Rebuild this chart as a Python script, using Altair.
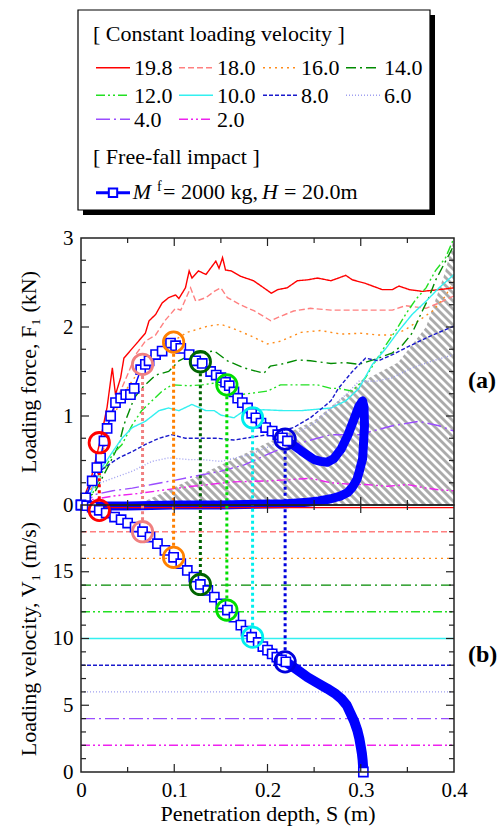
import altair as alt
import numpy as np
import pandas as pd

FONT = "Liberation Serif"
FRAME = "#222222"
W, H = 373, 267                 # plot area of each panel (px)
S_MAX, F_MAX, V_MAX = 0.4, 3.0, 20.0

# ---------------- constant loading velocity tests ----------------
vel_labels = ["19.8", "18.0", "16.0", "14.0", "12.0", "10.0", "8.0", "6.0", "4.0", "2.0"]
vel_values = [19.8, 18.0, 16.0, 14.0, 12.0, 10.0, 8.0, 6.0, 4.0, 2.0]
vel_colors = ["#ff0000", "#ff8080", "#ff8c1a", "#008a00", "#22e022",
              "#33f0f0", "#1a1acc", "#a0a0f0", "#9a4dff", "#ee22ee"]
vel_dashes = [[1, 0], [6, 3], [2, 4], [10, 4, 2, 4], [9, 3, 2, 3, 2, 3],
              [1, 0], [4, 2], [1, 2], [14, 4, 2, 4], [9, 3, 2, 3, 2, 3]]

s_198 = [0, 0.0107, 0.021, 0.028, 0.0336, 0.037, 0.0425, 0.046, 0.055, 0.06, 0.069, 0.073,
         0.08, 0.087, 0.094, 0.1014, 0.105, 0.112, 0.116, 0.119, 0.126, 0.134, 0.1446, 0.148,
         0.1518, 0.155, 0.161, 0.171, 0.185, 0.196, 0.204, 0.211, 0.221, 0.232, 0.243, 0.2536,
         0.268, 0.284, 0.291, 0.305, 0.323, 0.334, 0.341, 0.352, 0.366, 0.384, 0.4]
f_198 = [0, 0.29, 0.74, 1.1, 1.54, 1.24, 1.43, 1.65, 1.76, 1.82, 1.93, 2.07,
         2.14, 2.27, 2.33, 2.36, 2.32, 2.44, 2.63, 2.55, 2.63, 2.59, 2.74, 2.66,
         2.78, 2.64, 2.63, 2.57, 2.52, 2.44, 2.38, 2.42, 2.44, 2.52, 2.53, 2.55,
         2.52, 2.58, 2.53, 2.49, 2.42, 2.42, 2.46, 2.42, 2.40, 2.42, 2.44]

s_180 = [0, 0.01, 0.019, 0.03, 0.0407, 0.0514, 0.0586, 0.069, 0.08, 0.0907, 0.1014, 0.107,
         0.1175, 0.123, 0.134, 0.1429, 0.15, 0.157, 0.171, 0.186, 0.2036, 0.214, 0.228,
         0.246, 0.268, 0.298, 0.334, 0.348, 0.37, 0.384, 0.4]
f_180 = [0, 0.15, 0.38, 0.9, 1.24, 1.5, 1.69, 1.84, 1.91, 2.08, 2.21, 2.19,
         2.44, 2.29, 2.33, 2.40, 2.44, 2.33, 2.25, 2.18, 2.07, 2.12, 2.18,
         2.21, 2.19, 2.19, 2.19, 2.24, 2.21, 2.27, 2.35]

s_160 = [0, 0.012, 0.022, 0.032, 0.046, 0.064, 0.08, 0.1, 0.114, 0.136, 0.15, 0.164, 0.182,
         0.2, 0.214, 0.236, 0.257, 0.279, 0.3, 0.319, 0.334, 0.348, 0.362, 0.377, 0.391, 0.4]
f_160 = [0, 0.2, 0.55, 0.92, 1.26, 1.53, 1.7, 1.85, 1.94, 2.01, 2.03, 1.98, 1.9,
         1.81, 1.84, 1.94, 1.96, 1.92, 1.93, 1.91, 1.91, 1.97, 2.07, 2.18, 2.35, 2.52]

s_140 = [0, 0.015, 0.03, 0.0407, 0.046, 0.057, 0.065, 0.08, 0.094, 0.105, 0.12, 0.143, 0.157,
         0.175, 0.196, 0.203, 0.218, 0.232, 0.246, 0.268, 0.284, 0.298, 0.319, 0.334, 0.345,
         0.355, 0.366, 0.373, 0.38, 0.391, 0.4]
f_140 = [0, 0.15, 0.45, 0.68, 0.9, 1.2, 1.31, 1.46, 1.5, 1.62, 1.7, 1.73, 1.62,
         1.54, 1.48, 1.56, 1.59, 1.63, 1.62, 1.59, 1.6, 1.58, 1.65, 1.71, 1.8,
         1.93, 2.18, 2.33, 2.52, 2.74, 2.92]

s_120 = [0, 0.012, 0.022, 0.034, 0.044, 0.055, 0.065, 0.076, 0.087, 0.0975, 0.116, 0.13,
         0.143, 0.157, 0.171, 0.186, 0.2, 0.214, 0.236, 0.2536, 0.268, 0.276, 0.291, 0.305,
         0.316, 0.327, 0.3375, 0.348, 0.359, 0.37, 0.38, 0.391, 0.4]
f_120 = [0, 0.12, 0.35, 0.57, 0.68, 0.9, 1.06, 1.17, 1.28, 1.35, 1.34, 1.35,
         1.37, 1.31, 1.24, 1.26, 1.28, 1.35, 1.35, 1.35, 1.31, 1.31, 1.28, 1.43,
         1.62, 1.8, 1.96, 2.14, 2.31, 2.44, 2.63, 2.78, 3.0]

s_100 = [0, 0.008, 0.0225, 0.034, 0.044, 0.055, 0.069, 0.0836, 0.094, 0.105, 0.119, 0.134,
         0.143, 0.15, 0.164, 0.175, 0.196, 0.218, 0.236, 0.268, 0.284, 0.298, 0.3125, 0.327,
         0.341, 0.355, 0.37, 0.384, 0.4]
f_100 = [0, 0.08, 0.42, 0.6, 0.75, 0.87, 0.94, 1.06, 1.09, 1.06, 1.13, 1.06,
         1.06, 1.01, 0.98, 1.06, 1.07, 1.06, 1.06, 1.09, 1.17, 1.31, 1.58, 1.76,
         1.96, 2.14, 2.29, 2.44, 2.59]

s_080 = [0, 0.012, 0.025, 0.0407, 0.055, 0.069, 0.0836, 0.0975, 0.112, 0.126, 0.146, 0.164,
         0.2, 0.228, 0.246, 0.268, 0.276, 0.291, 0.305, 0.319, 0.334, 0.355, 0.377, 0.391, 0.4]
f_080 = [0, 0.3, 0.42, 0.53, 0.6, 0.68, 0.75, 0.79, 0.75, 0.75, 0.75, 0.73,
         0.79, 0.87, 0.98, 1.17, 1.31, 1.5, 1.65, 1.62, 1.69, 1.8, 1.91, 1.97, 2.01]

s_060 = [0, 0.0157, 0.034, 0.055, 0.076, 0.094, 0.116, 0.13, 0.15, 0.182, 0.207, 0.228,
         0.25, 0.268, 0.284, 0.298, 0.316, 0.334, 0.355, 0.377, 0.4]
f_060 = [0, 0.23, 0.3, 0.38, 0.49, 0.53, 0.51, 0.51, 0.49, 0.57, 0.68, 0.79,
         0.92, 1.09, 1.24, 1.39, 1.39, 1.43, 1.54, 1.62, 1.69]

s_040 = [0, 0.016, 0.034, 0.055, 0.076, 0.1014, 0.13, 0.15, 0.175, 0.2, 0.221, 0.243,
         0.268, 0.298, 0.334, 0.362, 0.384, 0.4]
f_040 = [0, 0.12, 0.16, 0.19, 0.23, 0.28, 0.34, 0.38, 0.45, 0.57, 0.66, 0.72,
         0.79, 0.79, 0.89, 0.94, 0.89, 0.83]

s_020 = [0, 0.012, 0.034, 0.062, 0.09, 0.119, 0.137, 0.164, 0.2, 0.246, 0.268, 0.293,
         0.306, 0.329, 0.35, 0.37, 0.384, 0.4]
f_020 = [0, 0.06, 0.1, 0.13, 0.17, 0.21, 0.23, 0.26, 0.27, 0.3, 0.25, 0.23,
         0.23, 0.21, 0.23, 0.19, 0.17, 0.16]

curves = [(s_198, f_198), (s_180, f_180), (s_160, f_160), (s_140, f_140), (s_120, f_120),
          (s_100, f_100), (s_080, f_080), (s_060, f_060), (s_040, f_040), (s_020, f_020)]

# ---------------- free-fall impact (Mf = 2000 kg, H = 20 m) ----------------
ff_s_a = [0.0, 0.005, 0.012, 0.017, 0.021, 0.0246, 0.028, 0.0318, 0.037, 0.0425, 0.048, 0.053,
          0.057, 0.064, 0.069, 0.073, 0.08, 0.087, 0.096, 0.1014, 0.107, 0.116, 0.123, 0.13,
          0.139, 0.145, 0.15, 0.155, 0.159, 0.164, 0.168, 0.173, 0.1786, 0.183, 0.1875, 0.193,
          0.198, 0.205, 0.211, 0.216, 0.2214, 0.228, 0.236, 0.243, 0.25, 0.257, 0.264, 0.271,
          0.279, 0.286, 0.293, 0.298, 0.302, 0.3035, 0.304, 0.303, 0.302, 0.299, 0.296, 0.291,
          0.286, 0.278, 0.268, 0.255, 0.243, 0.22, 0.2, 0.15, 0.1, 0.05, 0.0]
ff_f_a = [0.0, 0.08, 0.27, 0.42, 0.53, 0.72, 0.86, 1.0, 1.15, 1.2, 1.24, 1.24,
          1.31, 1.52, 1.58, 1.62, 1.69, 1.73, 1.82, 1.79, 1.76, 1.69, 1.62, 1.59,
          1.5, 1.46, 1.43, 1.38, 1.34, 1.27, 1.2, 1.15, 1.09, 1.03, 0.98, 0.92,
          0.87, 0.83, 0.79, 0.755, 0.72, 0.67, 0.61, 0.56, 0.51, 0.49, 0.48, 0.52,
          0.63, 0.78, 0.97, 1.11, 1.17, 1.1, 0.89, 0.7, 0.52, 0.4, 0.29, 0.2,
          0.14, 0.1, 0.07, 0.045, 0.03, 0.015, 0.01, 0.0, 0.0, -0.01, -0.01]
FF_A_SQUARES_END = 41       # squares drawn up to S = 0.2214
FF_A_BAND_START = 32        # densely packed markers from S = 0.1786 on

ff_s_b = [0, 0.006, 0.012, 0.0196, 0.027, 0.036, 0.043, 0.05, 0.058, 0.066, 0.074, 0.082,
          0.09, 0.0993, 0.107, 0.114, 0.121, 0.128, 0.136, 0.143, 0.15, 0.157, 0.164, 0.1714,
          0.177, 0.183, 0.19, 0.195, 0.2, 0.205, 0.21, 0.215, 0.2197, 0.232, 0.243, 0.254,
          0.264, 0.272, 0.279, 0.285, 0.289, 0.293, 0.2964, 0.2985, 0.3, 0.3012, 0.302, 0.3025]
ff_v_b = [20.0, 19.95, 19.85, 19.6, 19.4, 19.1, 18.9, 18.65, 18.35, 18.0, 17.6, 17.1,
          16.6, 16.08, 15.6, 15.1, 14.6, 14.05, 13.6, 13.1, 12.6, 12.13, 11.6, 11.0,
          10.55, 10.1, 9.7, 9.4, 9.13, 8.85, 8.6, 8.4, 8.25, 7.65, 7.1, 6.65,
          6.25, 5.9, 5.5, 5.0, 4.4, 3.8, 3.1, 2.5, 1.9, 1.4, 0.9, 0.4]
FF_B_SQUARES_END = 33
FF_B_BAND_START = 28
ff_stop_s, ff_stop_v = [0.3028], [0.0]

# points where the free-fall velocity equals each constant loading velocity
hit_s = [0.0196, 0.066, 0.0993, 0.128, 0.1564, 0.184, 0.2189]
hit_f = [0.70, 1.58, 1.83, 1.61, 1.35, 0.98, 0.74]
hit_v = [19.6, 18.0, 16.08, 14.05, 12.13, 10.1, 8.25]
hit_colors = ["#ff0000", "#f08080", "#ff8000", "#006400", "#00dd00", "#00eeee", "#0000dd"]

# upper edge of the hatched zone in panel (a)
hatch_s = [0, 0.06, 0.1, 0.15, 0.2, 0.25, 0.3, 0.34, 0.37, 0.39, 0.4]
hatch_f = [0, 0, 0.2, 0.45, 0.7, 0.95, 1.38, 1.6, 2.0, 2.6, 3.0]

# tick positions
x_major = [0.1, 0.2, 0.3]
x_minor = [0.05, 0.15, 0.25, 0.35]
fa_major = [1, 2]
fa_minor = [0.25, 0.5, 0.75, 1.25, 1.5, 1.75, 2.25, 2.5, 2.75]
vb_major = [5, 10, 15]
vb_minor = [1, 2, 3, 4, 6, 7, 8, 9, 11, 12, 13, 14, 16, 17, 18, 19]

BLUE = "#0000ff"
CIRCLE_R = 11.5            # px radius of the highlight circles
SQ = 84                    # marker area of the free-fall squares

xs = alt.Scale(domain=[0, S_MAX], nice=False, zero=False)
ys_a = alt.Scale(domain=[0, F_MAX], nice=False, zero=False)
ys_b = alt.Scale(domain=[0, V_MAX], nice=False, zero=False)

y_axis_a = alt.Axis(title="Loading force, F\u2081 (kN)", values=[0, 1, 2, 3], format="d",
                    ticks=False, domain=False, grid=False, labelPadding=8,
                    titleX=-53, titleY=H / 2, titleBaseline="middle")
y_axis_b = alt.Axis(title="Loading velocity, V\u2081 (m/s)", values=[0, 5, 10, 15], format="d",
                    ticks=False, domain=False, grid=False, labelPadding=8,
                    titleX=-53, titleY=H / 2, titleBaseline="middle")
x_axis_b = alt.Axis(title="Penetration depth, S (m)", values=[0, 0.1, 0.2, 0.3, 0.4],
                    labelExpr="datum.value == 0 ? '0' : format(datum.value, '.1f')",
                    ticks=False, domain=False, grid=False, labelPadding=7, titlePadding=3,
                    labelFlush=False, labelOverlap=False)

one = pd.DataFrame({"k": [0]})


def tick_rules(xvals, yvals, length, xenc, yenc):
    """Inward ticks on all four sides of a panel."""
    out = []
    dx = pd.DataFrame({"t": xvals})
    out.append(alt.Chart(dx).mark_rule(color=FRAME, strokeWidth=1.2).encode(
        x=alt.X("t:Q", scale=xs, axis=xenc), y=alt.value(0), y2=alt.value(length)))
    out.append(alt.Chart(dx).mark_rule(color=FRAME, strokeWidth=1.2).encode(
        x=alt.X("t:Q", scale=xs, axis=xenc), y=alt.value(H), y2=alt.value(H - length)))
    dy = pd.DataFrame({"t": yvals})
    out.append(alt.Chart(dy).mark_rule(color=FRAME, strokeWidth=1.2).encode(
        y=yenc("t"), x=alt.value(0), x2=alt.value(length)))
    out.append(alt.Chart(dy).mark_rule(color=FRAME, strokeWidth=1.2).encode(
        y=yenc("t"), x=alt.value(W), x2=alt.value(W - length)))
    return out


def frame():
    return alt.Chart(one).mark_rect(fillOpacity=0, stroke=FRAME, strokeWidth=1.5).encode(
        x=alt.value(0), x2=alt.value(W), y=alt.value(0), y2=alt.value(H))


def ya(field):
    return alt.Y(f"{field}:Q", scale=ys_a, axis=y_axis_a)


def yb(field):
    return alt.Y(f"{field}:Q", scale=ys_b, axis=y_axis_b)


XA = alt.X("S:Q", scale=xs, axis=None)
XB = alt.X("S:Q", scale=xs, axis=x_axis_b)

# ====================== panel (a): force ======================
layers_a = []

# hatching: 45-degree stripes across the panel, masked above the boundary
step = 8
offs = np.arange(-H, W + step, step)
hatch_lines = pd.DataFrame({"S": offs * S_MAX / W, "F": F_MAX,
                            "S2": (offs + H) * S_MAX / W, "F2": 0.0})
layers_a.append(alt.Chart(hatch_lines).mark_rule(color="#ababab", strokeWidth=3, clip=True).encode(
    x=XA, x2="S2:Q", y=ya("F"), y2="F2:Q"))
mask = pd.DataFrame({"S": hatch_s, "F": hatch_f, "top": F_MAX})
layers_a.append(alt.Chart(mask).mark_area(color="white", opacity=1, clip=True).encode(
    x=XA, y=ya("F"), y2="top:Q"))

for (s, f), col, dash in zip(curves, vel_colors, vel_dashes):
    d = pd.DataFrame({"S": s, "F": f, "i": range(len(s))})
    layers_a.append(alt.Chart(d).mark_line(color=col, strokeWidth=1.4, strokeDash=dash).encode(
        x=XA, y=ya("F"), order="i:Q"))

rad_f = CIRCLE_R / H * F_MAX
conn_a = pd.DataFrame({"S": hit_s, "F": [max(v - rad_f, 0) for v in hit_f], "F0": 0.0,
                       "c": hit_colors})
layers_a.append(alt.Chart(conn_a).mark_rule(strokeWidth=3, strokeDash=[3, 3]).encode(
    x=XA, y=ya("F"), y2="F0:Q", color=alt.Color("c:N", scale=None)))

ffa = pd.DataFrame({"S": ff_s_a, "F": ff_f_a, "i": range(len(ff_s_a))})
layers_a.append(alt.Chart(ffa.iloc[FF_A_BAND_START:]).mark_line(
    color=BLUE, strokeWidth=9, strokeJoin="round", strokeCap="round").encode(
    x=XA, y=ya("F"), order="i:Q"))
layers_a.append(alt.Chart(ffa).mark_line(color=BLUE, strokeWidth=1.5).encode(
    x=XA, y=ya("F"), order="i:Q"))
layers_a.append(alt.Chart(ffa.iloc[:FF_A_SQUARES_END]).mark_point(
    shape="square", filled=True, color="white", stroke=BLUE, strokeWidth=1.6, size=SQ,
    opacity=1).encode(x=XA, y=ya("F")))

circ_a = pd.DataFrame({"S": hit_s, "F": hit_f, "c": hit_colors})
layers_a.append(alt.Chart(circ_a).mark_point(shape="circle", size=415, strokeWidth=2.8,
                                             filled=False, opacity=1).encode(
    x=XA, y=ya("F"), color=alt.Color("c:N", scale=None)))

layers_a.append(frame())
layers_a += tick_rules(x_major, fa_major, 8, None, ya)
layers_a += tick_rules(x_minor, fa_minor, 5, None, ya)

# legend box with drop shadow, drawn above the panel
BX0, BY0, BX1, BY1 = -3, -228, 349, -28
layers_a.append(alt.Chart(one).mark_rect(color="black").encode(
    x=alt.value(BX0 + 5), x2=alt.value(BX1 + 5), y=alt.value(BY0 + 5), y2=alt.value(BY1 + 5)))
layers_a.append(alt.Chart(one).mark_rect(fill="white", stroke="black", strokeWidth=1.2).encode(
    x=alt.value(BX0), x2=alt.value(BX1), y=alt.value(BY0), y2=alt.value(BY1)))


def legend_text(txt, x, y, size=22, style="normal", weight="normal"):
    return alt.Chart(one).mark_text(font=FONT, fontSize=size, fontStyle=style, fontWeight=weight,
                                    align="left", baseline="alphabetic", color="black").encode(
        x=alt.value(x), y=alt.value(y), text=alt.value(txt))


layers_a.append(legend_text("[ Constant loading velocity ]", 12, -197))
row_y = [-170.3, -142.7, -118.7]
col_x = [15, 98, 182, 265]
for k, (lab, col, dash) in enumerate(zip(vel_labels, vel_colors, vel_dashes)):
    ry, cx = row_y[k // 4], col_x[k % 4]
    layers_a.append(alt.Chart(one).mark_rule(color=col, strokeWidth=1.5, strokeDash=dash).encode(
        x=alt.value(cx), x2=alt.value(cx + 34), y=alt.value(ry)))
    layers_a.append(legend_text(lab, cx + 38, ry + 7.5))

layers_a.append(legend_text("[ Free-fall impact ]", 12, -74))
layers_a.append(alt.Chart(one).mark_rule(color=BLUE, strokeWidth=3).encode(
    x=alt.value(15), x2=alt.value(49), y=alt.value(-45.3)))
layers_a.append(alt.Chart(one).mark_point(shape="square", filled=True, color="white", stroke=BLUE,
                                          strokeWidth=2, size=70, opacity=1).encode(
    x=alt.value(32), y=alt.value(-45.3)))
layers_a.append(legend_text("M", 51.7, -39, style="italic"))
layers_a.append(legend_text("f", 76, -47, size=14))
layers_a.append(legend_text("= 2000 kg,", 82, -39))
layers_a.append(legend_text("H", 181, -39, style="italic"))
layers_a.append(legend_text("= 20.0m", 203, -39))

layers_a.append(alt.Chart(one).mark_text(font=FONT, fontSize=24, fontWeight="bold", align="left",
                                         baseline="middle", color="black").encode(
    x=alt.value(W + 14), y=alt.value(143), text=alt.value("(a)")))

panel_a = alt.layer(*layers_a).properties(width=W, height=H)

# ====================== panel (b): velocity ======================
layers_b = []
for v, col, dash in zip(vel_values, vel_colors, vel_dashes):
    d = pd.DataFrame({"V": [v]})
    layers_b.append(alt.Chart(d).mark_rule(color=col, strokeWidth=1.4, strokeDash=dash).encode(
        y=yb("V"), x=alt.value(0), x2=alt.value(W)))

rad_v = CIRCLE_R / H * V_MAX
conn_b = pd.DataFrame({"S": hit_s, "V": [v + rad_v for v in hit_v], "V0": V_MAX, "c": hit_colors})
layers_b.append(alt.Chart(conn_b).mark_rule(strokeWidth=3, strokeDash=[3, 3], clip=True).encode(
    x=XB, y=yb("V"), y2="V0:Q", color=alt.Color("c:N", scale=None)))

ffb = pd.DataFrame({"S": ff_s_b, "V": ff_v_b, "i": range(len(ff_s_b))})
layers_b.append(alt.Chart(ffb.iloc[FF_B_BAND_START:]).mark_line(
    color=BLUE, strokeWidth=10, strokeJoin="round", strokeCap="round").encode(
    x=XB, y=yb("V"), order="i:Q"))
layers_b.append(alt.Chart(ffb).mark_line(color=BLUE, strokeWidth=1.5).encode(
    x=XB, y=yb("V"), order="i:Q"))
layers_b.append(alt.Chart(ffb.iloc[:FF_B_SQUARES_END]).mark_point(
    shape="square", filled=True, color="white", stroke=BLUE, strokeWidth=1.6, size=SQ,
    opacity=1).encode(x=XB, y=yb("V")))
stop = pd.DataFrame({"S": ff_stop_s, "V": ff_stop_v})
layers_b.append(alt.Chart(stop).mark_point(
    shape="square", filled=True, color="white", stroke=BLUE, strokeWidth=1.6, size=SQ,
    opacity=1).encode(x=XB, y=yb("V")))

circ_b = pd.DataFrame({"S": hit_s, "V": hit_v, "c": hit_colors})
layers_b.append(alt.Chart(circ_b).mark_point(shape="circle", size=415, strokeWidth=2.8,
                                             filled=False, opacity=1).encode(
    x=XB, y=yb("V"), color=alt.Color("c:N", scale=None)))

layers_b.append(frame())
layers_b += tick_rules(x_major, vb_major, 8, x_axis_b, yb)
layers_b += tick_rules(x_minor, vb_minor, 5, x_axis_b, yb)

layers_b.append(alt.Chart(one).mark_text(font=FONT, fontSize=24, fontWeight="bold", align="left",
                                         baseline="middle", color="black").encode(
    x=alt.value(W + 14), y=alt.value(150), text=alt.value("(b)")))

panel_b = alt.layer(*layers_b).properties(width=W, height=H)

chart = alt.vconcat(panel_a, panel_b, spacing=0, bounds="flush").properties(
    padding={"left": 16, "top": 9, "right": 2, "bottom": 2}
).configure_view(stroke=None).configure_axis(
    labelFont=FONT, titleFont=FONT, labelFontSize=21, titleFontSize=22,
    labelColor="black", titleColor="black", titleFontWeight="normal"
)

chart.save("out.html", embed_options={"renderer": "svg", "actions": False})
